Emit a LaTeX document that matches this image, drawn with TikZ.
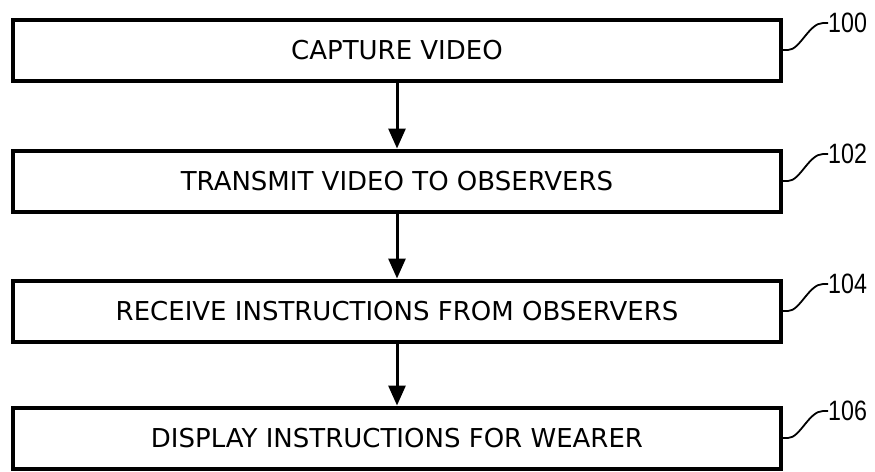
\documentclass[tikz,border=0pt]{standalone}
\usepackage{fontspec}
\usetikzlibrary{arrows.meta}
\newfontfamily\boxfont{DejaVu Sans}
\newfontfamily\numfont[FakeStretch=0.83]{Liberation Sans}
\begin{document}
\begin{tikzpicture}[x=1pt,y=-1pt,
  stepbox/.style={draw, line width=4pt, minimum width=768pt, minimum height=61pt,
    inner sep=0pt, font=\boxfont\fontsize{26}{30}\selectfont},
  flow/.style={line width=3pt, -{Triangle[length=20pt,width=17pt]}},
  lead/.style={line width=1.8pt},
  reflabel/.style={anchor=west, inner sep=0pt, font=\numfont\fontsize{28}{32}\selectfont}]
\useasboundingbox (0,0) rectangle (875,471);
\node[stepbox] (b1) at (397,50) {CAPTURE VIDEO};
\node[stepbox] (b2) at (397,181) {TRANSMIT VIDEO TO OBSERVERS};
\node[stepbox] (b3) at (397,311) {RECEIVE INSTRUCTIONS FROM OBSERVERS};
\node[stepbox] (b4) at (397,438) {DISPLAY INSTRUCTIONS FOR WEARER};
\draw[flow] (b1.south) -- (b2.north);
\draw[flow] (b2.south) -- (b3.north);
\draw[flow] (b3.south) -- (b4.north);
\foreach \b/\t in {b1/100, b2/102, b3/104, b4/106}{
  \node[reflabel] (l\t) at ([xshift=45pt,yshift=27pt]\b.east) {\t};
  \draw[lead] (\b.east) -- ++(5,0) .. controls ++(12,0) and ++(-14,0) .. ([xshift=-5pt]l\t.west) -- (l\t.west);
}
\end{tikzpicture}
\end{document}
